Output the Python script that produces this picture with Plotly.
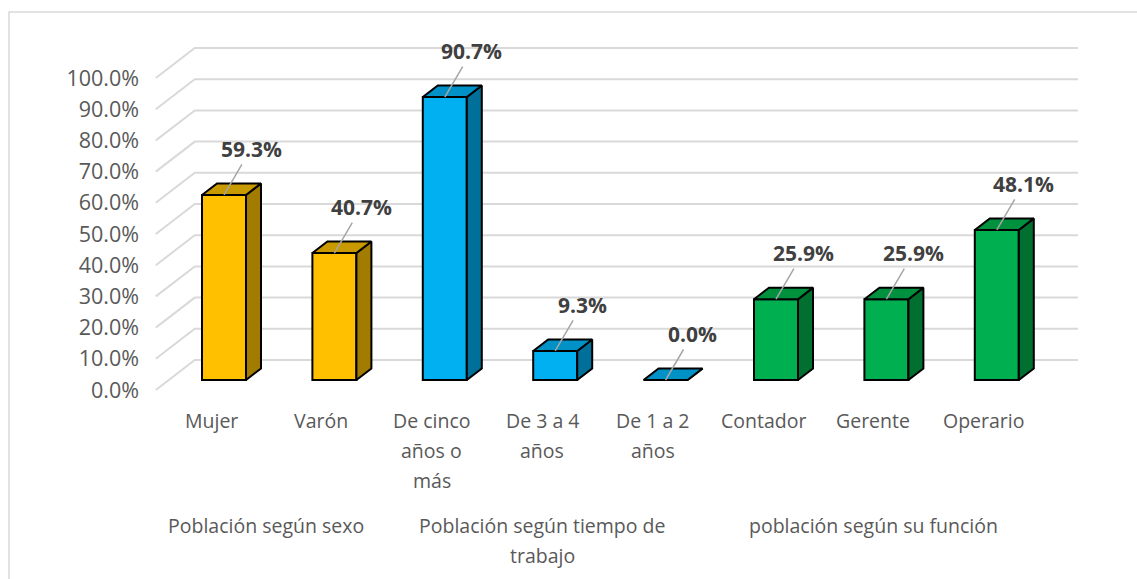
import plotly.graph_objects as go

# ---------------- data ----------------
categories = ["Mujer", "Varón", "De cinco años o más", "De 3 a 4 años",
              "De 1 a 2 años", "Contador", "Gerente", "Operario"]
category_lines = [["Mujer"], ["Varón"], ["De cinco", "años o", "más"],
                  ["De 3 a 4", "años"], ["De 1 a 2", "años"],
                  ["Contador"], ["Gerente"], ["Operario"]]
values = [59.3, 40.7, 90.7, 9.3, 0.0, 25.9, 25.9, 48.1]
groups = ["Población según sexo", "Población según tiempo de trabajo",
          "población según su función"]
group_lines = [["Población según sexo"], ["Población según tiempo de", "trabajo"],
               ["población según su función"]]
group_members = [[0, 1], [2, 3, 4], [5, 6, 7]]
group_of_cat = [0, 0, 1, 1, 1, 2, 2, 2]
y_ticks = [0, 10, 20, 30, 40, 50, 60, 70, 80, 90, 100]

# ---------------- style ----------------
face_colors = [  # front, top, side
    ("#FFC000", "#C89A00", "#A27C00"),
    ("#00B0F0", "#0091C6", "#006F99"),
    ("#00B050", "#00913F", "#006F2F"),
]
FONT = "Open Sans"
GRID = "#D9D9D9"
TXT = "#595959"

# layout geometry (pixels)
W, H = 1137, 579
L, R, T, B = 140, 1120, 20, 400
PX_X = 110.4          # pixels per category unit
PX_Y = 3.12           # pixels per percent unit
X0PX, Y0PX = 211, 390  # pixel position of (0, 0) on floor front edge

x_range = [(L - X0PX) / PX_X, (R - X0PX) / PX_X]
y_range = [(Y0PX - B) / PX_Y, (Y0PX - T) / PX_Y]

# depth offsets (full floor depth) in data units
DX = 39 / PX_X
DY = 30 / PX_Y
D_FRONT = 1 / 3
D_BACK = D_FRONT + 15 / 39
BAR_W = 44 / PX_X

n = len(values)
fig = go.Figure()

# back wall grid lines (with left-wall diagonals)
shapes = []
for v in y_ticks:
    path = (f"M {-0.5},{v} L {-0.5 + DX},{v + DY} "
            f"L {n - 0.5 + DX},{v + DY}")
    shapes.append(dict(type="path", path=path, xref="x", yref="y",
                       line=dict(color=GRID, width=2), layer="below"))

# outer frame
shapes.append(dict(type="rect", xref="paper", yref="paper",
                   x0=(9 - L) / (R - L), x1=(1140 - L) / (R - L),
                   y0=(B - 590) / (B - T), y1=(B - 12) / (B - T),
                   line=dict(color=GRID, width=1.5), layer="below"))

# front faces
xc = [i + D_FRONT * DX for i in range(n)]
base = D_FRONT * DY
fig.add_trace(go.Bar(
    x=xc, y=values, base=[base] * n, width=BAR_W,
    marker=dict(color=[face_colors[g][0] for g in group_of_cat],
                line=dict(color="black", width=2)),
    hoverinfo="skip", showlegend=False))

ddx = (D_BACK - D_FRONT) * DX
ddy = (D_BACK - D_FRONT) * DY
for i, v in enumerate(values):
    g = group_of_cat[i]
    xl, xr = xc[i] - BAR_W / 2, xc[i] + BAR_W / 2
    yb, yt = base, base + v
    # side face
    fig.add_trace(go.Scatter(
        x=[xr, xr, xr + ddx, xr + ddx, xr], y=[yb, yt, yt + ddy, yb + ddy, yb],
        mode="lines", fill="toself", fillcolor=face_colors[g][2],
        line=dict(color="black", width=2), hoverinfo="skip", showlegend=False))
    # top face
    fig.add_trace(go.Scatter(
        x=[xl, xr, xr + ddx, xl + ddx, xl], y=[yt, yt, yt + ddy, yt + ddy, yt],
        mode="lines", fill="toself", fillcolor=face_colors[g][1],
        line=dict(color="black", width=2), hoverinfo="skip", showlegend=False))

annotations = []
# data labels with leader lines
for i, v in enumerate(values):
    annotations.append(dict(
        x=xc[i], y=base + v, xref="x", yref="y", text=f"{v:.1f}%",
        showarrow=True, arrowhead=0, arrowwidth=1.5, arrowcolor="#A6A6A6",
        ax=27, ay=-46,
        font=dict(family=FONT, size=21, color="#404040", weight="bold")))

# category labels
for i, lines in enumerate(category_lines):
    for k, line in enumerate(lines):
        annotations.append(dict(
            x=i, y=0, xref="x", yref="paper", text=line, showarrow=False,
            yanchor="middle", yshift=-(20 + 30 * k),
            font=dict(family=FONT, size=19.5, color=TXT)))

# group labels
for gi, lines in enumerate(group_lines):
    gx = sum(group_members[gi]) / len(group_members[gi])
    for k, line in enumerate(lines):
        annotations.append(dict(
            x=gx, y=0, xref="x", yref="paper", text=line, showarrow=False,
            yanchor="middle", yshift=-(125 + 30 * k),
            font=dict(family=FONT, size=19.5, color=TXT)))

fig.update_layout(
    width=W, height=H,
    margin=dict(l=L, r=W - R, t=T, b=H - B),
    paper_bgcolor="white", plot_bgcolor="white",
    shapes=shapes, annotations=annotations,
    showlegend=False,
    xaxis=dict(range=x_range, showgrid=False, zeroline=False,
               showticklabels=False, showline=False, fixedrange=True),
    yaxis=dict(range=y_range, showgrid=False, zeroline=False, showline=False,
               tickvals=y_ticks, ticktext=[f"{t:.1f}%" for t in y_ticks],
               ticks="", tickfont=dict(family=FONT, size=21.5, color=TXT),
               fixedrange=True),
)

fig.write_html("out.html", post_script="document.body.style.margin='0px';",
               config={"displayModeBar": False})
